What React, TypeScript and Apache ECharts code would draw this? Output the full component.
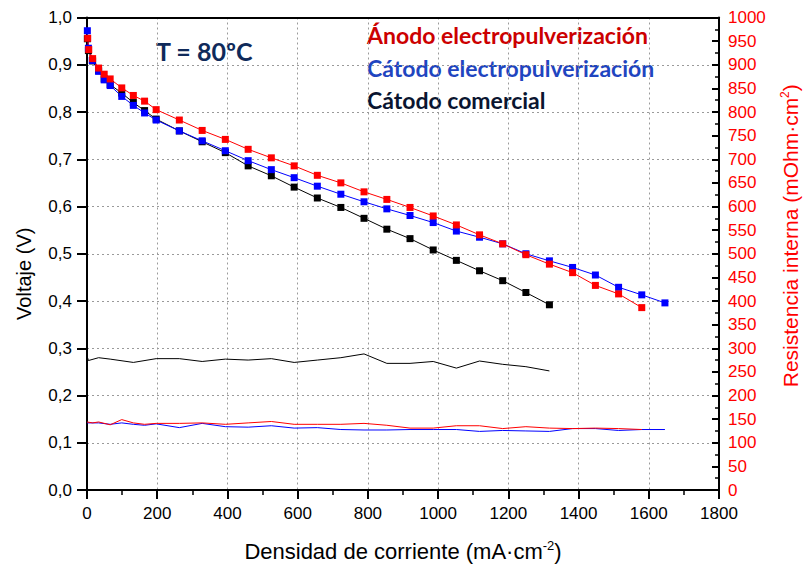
import React, { useEffect, useRef } from "react";
import * as echarts from "echarts";

// Voltage curves (left axis, V) vs current density (mA·cm-2)
const currentComercial = [1, 4, 16, 33, 49, 66, 99, 132, 164, 197, 263, 328, 394, 459, 525, 590, 656, 723, 789, 854, 920, 986, 1052, 1118, 1184, 1250, 1317];
const voltageComercial = [0.955, 0.93, 0.908, 0.888, 0.87, 0.858, 0.84, 0.82, 0.803, 0.785, 0.76, 0.737, 0.714, 0.686, 0.665, 0.641, 0.618, 0.598, 0.575, 0.552, 0.532, 0.508, 0.486, 0.464, 0.443, 0.418, 0.392];

const currentCatodo = [1, 4, 15, 33, 49, 66, 99, 132, 164, 197, 263, 328, 394, 459, 525, 590, 656, 723, 789, 854, 920, 986, 1052, 1118, 1184, 1250, 1317, 1383, 1448, 1514, 1580, 1646];
const voltageCatodo = [0.972, 0.935, 0.909, 0.886, 0.868, 0.856, 0.833, 0.814, 0.798, 0.783, 0.76, 0.739, 0.718, 0.697, 0.678, 0.661, 0.643, 0.626, 0.61, 0.595, 0.581, 0.566, 0.548, 0.535, 0.521, 0.5, 0.485, 0.471, 0.455, 0.429, 0.413, 0.396];

const currentAnodo = [2, 5, 16, 33, 49, 66, 99, 132, 164, 197, 263, 328, 394, 459, 525, 590, 656, 723, 789, 854, 920, 986, 1052, 1118, 1184, 1250, 1317, 1383, 1448, 1514, 1580];
const voltageAnodo = [0.956, 0.932, 0.913, 0.893, 0.88, 0.87, 0.851, 0.835, 0.823, 0.805, 0.783, 0.761, 0.742, 0.721, 0.703, 0.686, 0.666, 0.65, 0.631, 0.615, 0.598, 0.58, 0.561, 0.54, 0.521, 0.498, 0.478, 0.46, 0.433, 0.415, 0.386];

// Internal resistance curves (right axis, mOhm·cm2)
const resCurrentComercial = [0, 4, 33, 66, 132, 197, 263, 328, 394, 459, 525, 590, 656, 723, 789, 854, 920, 986, 1052, 1118, 1184, 1250, 1317];
const resComercial = [284, 274, 280, 277, 270, 278, 278, 272, 277, 275, 278, 270, 275, 280, 288, 268, 268, 272, 258, 273, 266, 261, 252];

const resCurrentCatodo = [0, 33, 66, 99, 132, 164, 197, 263, 328, 394, 459, 525, 590, 656, 723, 789, 854, 920, 986, 1052, 1118, 1184, 1250, 1317, 1383, 1448, 1514, 1580, 1646];
const resCatodo = [142, 142, 139, 142, 139, 137, 140, 132, 141, 134, 133, 136, 131, 132, 128, 127, 127, 128, 128, 128, 124, 126, 125, 124, 130, 130, 126, 128, 128];

const resCurrentAnodo = [0, 16, 33, 66, 99, 132, 164, 197, 263, 328, 394, 459, 525, 590, 656, 723, 789, 854, 920, 986, 1052, 1118, 1184, 1250, 1317, 1383, 1448, 1514, 1580];
const resAnodo = [144, 142, 144, 138, 149, 142, 139, 141, 141, 142, 139, 142, 145, 139, 139, 139, 141, 137, 131, 131, 136, 136, 130, 134, 131, 130, 131, 130, 128];

const xTicksMax = 1800;
const labelsText = {
  temp: "T = 80ºC",
  anodo: "Ánodo electropulverización",
  catodo: "Cátodo electropulverización",
  comercial: "Cátodo comercial",
};

const zip = (xs: number[], ys: number[]) => xs.map((x, i) => [x, ys[i]]);

const AX = "'Liberation Sans', Arial, sans-serif";
const TF = "Lato";

export default function App() {
  const ref = useRef<HTMLDivElement>(null);
  useEffect(() => {
    if (!ref.current) return;
    const chart = echarts.init(ref.current, undefined, { renderer: "svg" });
    const dotted = { type: [2, 3] as any, color: "#9a9a9a", width: 1 };
    const plain = (v: number) => String(v);
    const option: any = {
      animation: false,
      backgroundColor: "#ffffff",
      textStyle: { fontFamily: AX },
      grid: { left: 87, right: 82, top: 17.5, bottom: 78 },
      xAxis: [
        {
          type: "value",
          position: "bottom",
          min: 0,
          max: xTicksMax,
          interval: 200,
          name: "Densidad de corriente (mA·cm{sup|-2})",
          nameLocation: "middle",
          nameGap: 49,
          nameTextStyle: {
            fontFamily: AX,
            fontSize: 22,
            color: "#000",
            rich: { sup: { fontFamily: AX, fontSize: 13, color: "#000", padding: [0, 0, 12, 0] } },
          },
          axisLine: { show: true, onZero: false, lineStyle: { color: "#000", width: 2 } },
          axisTick: { show: true, length: 9, inside: false, lineStyle: { color: "#000", width: 2 } },
          minorTick: { show: true, splitNumber: 2, length: 5, lineStyle: { color: "#000", width: 1.5 } },
          axisLabel: { fontFamily: AX, fontSize: 17, color: "#000", margin: 15, formatter: plain },
          splitLine: { show: true, lineStyle: dotted },
        },
        {
          type: "value",
          position: "top",
          min: 0,
          max: xTicksMax,
          interval: 200,
          axisLine: { show: true, onZero: false, lineStyle: { color: "#000", width: 2 } },
          axisTick: { show: false },
          axisLabel: { show: false },
          splitLine: { show: false },
        },
      ],
      yAxis: [
        {
          type: "value",
          position: "left",
          min: 0,
          max: 1,
          interval: 0.1,
          name: "Voltaje (V)",
          nameLocation: "middle",
          nameGap: 53,
          nameRotate: 90,
          nameTextStyle: { fontFamily: AX, fontSize: 20, color: "#000", padding: [0, 40, 0, 0] },
          axisLine: { show: true, onZero: false, lineStyle: { color: "#000", width: 2 } },
          axisTick: { show: true, length: 10, inside: false, lineStyle: { color: "#000", width: 2 } },
          axisLabel: {
            fontFamily: AX,
            fontSize: 17,
            color: "#000",
            margin: 15,
            formatter: (v: number) => v.toFixed(1).replace(".", ","),
          },
          splitLine: { show: true, lineStyle: dotted },
        },
        {
          type: "value",
          position: "right",
          min: 0,
          max: 1000,
          interval: 50,
          name: "Resistencia interna (mOhm·cm{sup|2})",
          nameLocation: "middle",
          nameGap: 60,
          nameRotate: 90,
          nameTextStyle: {
            fontFamily: AX,
            fontSize: 21,
            color: "#ff0000",
            padding: [0, 0, 0, 36],
            rich: { sup: { fontFamily: AX, fontSize: 12, color: "#ff0000", padding: [0, 0, 11, 0] } },
          },
          axisLine: { show: true, onZero: false, lineStyle: { color: "#000", width: 2 } },
          axisTick: { show: true, length: 7, inside: true, lineStyle: { color: "#000", width: 2 } },
          minorTick: { show: true, splitNumber: 2, length: 4, lineStyle: { color: "#000", width: 1.5 } },
          axisLabel: { fontFamily: AX, fontSize: 17, color: "#ff0000", margin: 9, formatter: plain },
          splitLine: { show: false },
        },
      ],
      series: [
        {
          name: "Comercial R",
          type: "line",
          yAxisIndex: 1,
          data: zip(resCurrentComercial, resComercial),
          symbol: "none",
          lineStyle: { color: "#000", width: 1 },
        },
        {
          name: "Catodo R",
          type: "line",
          yAxisIndex: 1,
          data: zip(resCurrentCatodo, resCatodo),
          symbol: "none",
          lineStyle: { color: "#0000ff", width: 1 },
        },
        {
          name: "Anodo R",
          type: "line",
          yAxisIndex: 1,
          data: zip(resCurrentAnodo, resAnodo),
          symbol: "none",
          lineStyle: { color: "#ff0000", width: 1 },
        },
        {
          name: labelsText.comercial,
          type: "line",
          data: zip(currentComercial, voltageComercial),
          symbol: "rect",
          symbolSize: 7,
          itemStyle: { color: "#000" },
          lineStyle: { color: "#000", width: 1 },
        },
        {
          name: labelsText.catodo,
          type: "line",
          data: zip(currentCatodo, voltageCatodo),
          symbol: "rect",
          symbolSize: 7,
          itemStyle: { color: "#0000ff" },
          lineStyle: { color: "#0000ff", width: 1 },
        },
        {
          name: labelsText.anodo,
          type: "line",
          data: zip(currentAnodo, voltageAnodo),
          symbol: "rect",
          symbolSize: 7,
          itemStyle: { color: "#ff0000" },
          lineStyle: { color: "#ff0000", width: 1 },
        },
      ],
      graphic: [
        {
          type: "text",
          left: 156,
          top: 38,
          style: { text: labelsText.temp, font: `bold 25px ${TF}`, fill: "#0f2a5a" },
        },
        {
          type: "text",
          left: 367,
          top: 23,
          style: { text: labelsText.anodo, font: `bold 23px ${TF}`, fill: "#cc0000" },
        },
        {
          type: "text",
          left: 367,
          top: 56,
          style: { text: labelsText.catodo, font: `bold 23px ${TF}`, fill: "#1f45c0" },
        },
        {
          type: "text",
          left: 367,
          top: 88,
          style: { text: labelsText.comercial, font: `bold 23px ${TF}`, fill: "#0a1530" },
        },
      ],
    };
    chart.setOption(option);
    return () => chart.dispose();
  }, []);
  return (
    <div
      ref={ref}
      style={{ position: "fixed", left: 0, top: 0, width: 809, height: 568, background: "#fff", overflow: "hidden" }}
    />
  );
}
